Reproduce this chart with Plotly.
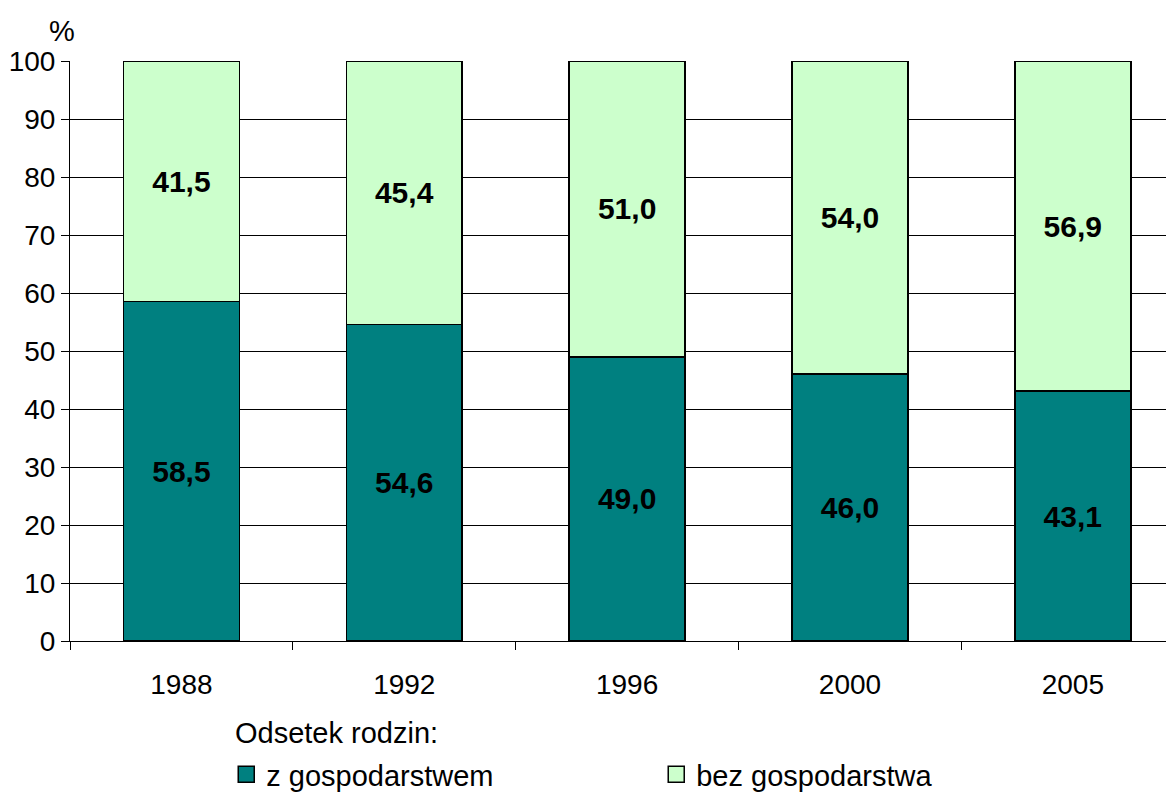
import plotly.graph_objects as go

years = ["1988", "1992", "1996", "2000", "2005"]
z_gosp = [58.5, 54.6, 49.0, 46.0, 43.1]
bez_gosp = [41.5, 45.4, 51.0, 54.0, 56.9]
y_ticks = [0, 10, 20, 30, 40, 50, 60, 70, 80, 90, 100]
series_names = ["z gospodarstwem", "bez gospodarstwa"]
series_colors = ["#008080", "#CCFFCC"]
legend_title = "Odsetek rodzin:"

def fmt(v):
    return f"{v:.1f}".replace(".", ",")

FONT = "Liberation Sans, Arial, sans-serif"

fig = go.Figure()
for vals, name, col in zip([z_gosp, bez_gosp], series_names, series_colors):
    fig.add_trace(go.Bar(
        x=years, y=vals, name=name, showlegend=False, legendgroup=name,
        marker=dict(color=col, line=dict(color="black", width=1.5)),
        text=[fmt(v) for v in vals], textposition="inside", insidetextanchor="middle",
        textfont=dict(family=FONT, size=30, color="black", weight="bold"),
        width=0.52,
    ))
# legend entries (square swatches)
for name, col in zip(series_names, series_colors):
    fig.add_trace(go.Scatter(
        x=[None], y=[None], mode="markers", name=name, legendgroup=name,
        marker=dict(symbol="square", size=18, color=col, line=dict(color="black", width=1.5)),
        hoverinfo="skip",
    ))

fig.update_layout(
    barmode="stack",
    width=1174, height=792,
    margin=dict(l=62, r=0, t=53, b=159),
    paper_bgcolor="white", plot_bgcolor="white",
    font=dict(family=FONT, size=28, color="black"),
    showlegend=True,
    legend=dict(
        orientation="h", x=0.1405, xanchor="left", y=-0.2305, yanchor="middle",
        font=dict(size=29), entrywidth=385, entrywidthmode="pixels",
        itemclick=False, traceorder="normal", tracegroupgap=0,
        bgcolor="rgba(0,0,0,0)",
    ),
    annotations=[
        dict(text="%", xref="paper", yref="paper", x=0.006, y=1.0, xanchor="right",
             yanchor="bottom", yshift=12, showarrow=False, font=dict(size=29)),
        dict(text=legend_title, xref="paper", yref="paper", x=0.1466, y=-0.1586,
             xanchor="left", yanchor="middle", showarrow=False, font=dict(size=29)),
    ],
)
fig.update_xaxes(
    type="category", range=[-0.5, 4.49], tickson="boundaries",
    ticks="outside", ticklen=8, tickcolor="black", showline=True,
    linecolor="black", linewidth=1, showgrid=False,
    tickfont=dict(size=28), ticklabelstandoff=18,
)
fig.update_yaxes(
    range=[0, 100], tickvals=y_ticks, ticks="outside", ticklen=8,
    tickcolor="black", showline=True, linecolor="black", linewidth=1,
    showgrid=True, gridcolor="black", gridwidth=1, zeroline=False,
    tickfont=dict(size=28), ticklabelstandoff=0,
)

fig.write_html("out.html")
